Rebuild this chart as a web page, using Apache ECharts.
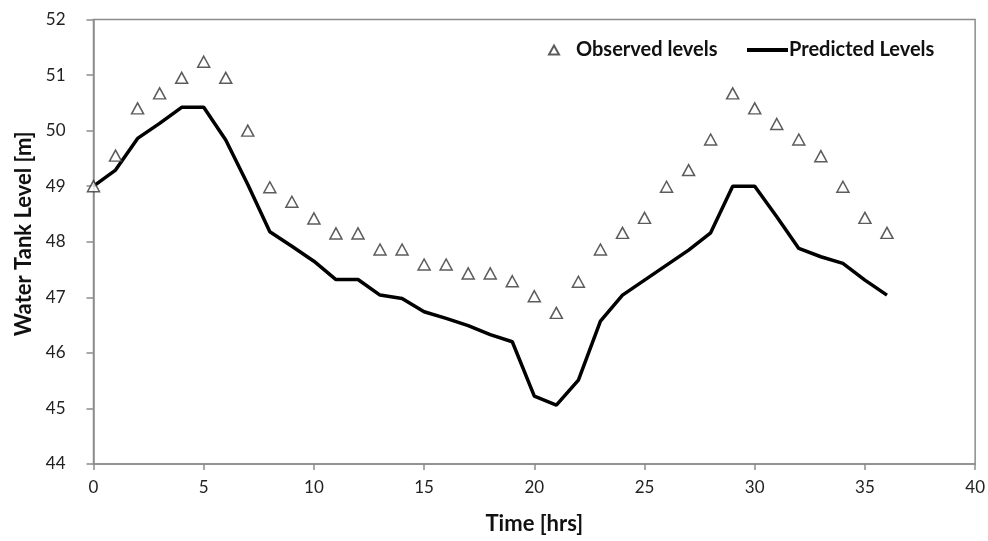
<!DOCTYPE html>
<html>
<head>
<meta charset="utf-8">
<script src="https://cdn.jsdelivr.net/npm/echarts@6/dist/echarts.min.js"></script>
<style>
  html, body { margin: 0; padding: 0; background: #fff; }
  #chart { width: 988px; height: 541px; }
</style>
</head>
<body>
<div id="chart"></div>
<script>
// hours 0..36
const hours = [0, 1, 2, 3, 4, 5, 6, 7, 8, 9, 10, 11, 12, 13, 14, 15, 16, 17, 18,
  19, 20, 21, 22, 23, 24, 25, 26, 27, 28, 29, 30, 31, 32, 33, 34, 35, 36]
// observed levels (triangles)
const observed = [49.0, 49.55, 50.4, 50.67, 50.95, 51.24, 50.95, 50.0, 48.98, 48.72,
  48.42, 48.15, 48.15, 47.86, 47.86, 47.59, 47.59, 47.43, 47.43, 47.29, 47.02, 46.72,
  47.28, 47.86, 48.16, 48.43, 48.99, 49.29, 49.84, 50.67, 50.4, 50.12, 49.84, 49.54,
  48.99, 48.43, 48.16]
// predicted levels (line)
const predicted = [49.0, 49.29, 49.86, 50.13, 50.42, 50.42, 49.83, 49.03, 48.18, 47.92,
  47.65, 47.32, 47.32, 47.04, 46.98, 46.74, 46.62, 46.49, 46.33, 46.2, 45.22, 45.06,
  45.51, 46.57, 47.04, 47.31, 47.58, 47.85, 48.16, 49.0, 49.0, 48.45, 47.88, 47.73,
  47.61, 47.31, 47.04]

const font = 'Lato, "Open Sans", sans-serif'
const chart = echarts.init(document.getElementById('chart'))

const option = {
  backgroundColor: '#fff',
  animation: false,
  textStyle: { fontFamily: font },
  grid: {
    left: 93.5,
    right: 12,
    top: 19.5,
    bottom: 77,
    show: true,
    borderColor: '#8c8c8c',
    borderWidth: 1.5,
    containLabel: false
  },
  legend: [{
    left: 543,
    top: 35,
    data: ['Observed levels'],
    icon: 'triangle',
    itemWidth: 10,
    itemHeight: 9,
    itemGap: 0,
    textStyle: { fontFamily: font, fontSize: 20, fontWeight: 'bold', color: '#111', padding: [0, 0, 0, 12] }
  }, {
    left: 742,
    top: 35,
    data: ['Predicted Levels'],
    icon: 'rect',
    itemWidth: 41,
    itemHeight: 4,
    textStyle: { fontFamily: font, fontSize: 20, fontWeight: 'bold', color: '#111', padding: [0, 0, 0, -4] }
  }],
  xAxis: {
    type: 'value',
    min: 0,
    max: 40,
    interval: 5,
    name: 'Time [hrs]',
    nameLocation: 'middle',
    nameGap: 49,
    nameTextStyle: { fontFamily: font, fontSize: 22, fontWeight: 'bold', color: '#111', verticalAlign: 'top' },
    splitLine: { show: false },
    axisLine: { lineStyle: { color: '#8c8c8c', width: 1.5 } },
    axisTick: { show: true, length: 6, lineStyle: { color: '#8c8c8c', width: 1.5 } },
    axisLabel: { fontFamily: font, fontSize: 17, color: '#222', margin: 15 }
  },
  yAxis: {
    type: 'value',
    min: 44,
    max: 52,
    interval: 1,
    name: 'Water Tank Level [m]',
    nameLocation: 'middle',
    nameGap: 58,
    nameTextStyle: { fontFamily: font, fontSize: 22, fontWeight: 'bold', color: '#111', padding: [0, 0, 0, 16] },
    splitLine: { show: false },
    axisLine: { show: true, lineStyle: { color: '#8c8c8c', width: 1.5 } },
    axisTick: { show: true, length: 7, lineStyle: { color: '#8c8c8c', width: 1.5 } },
    axisLabel: { fontFamily: font, fontSize: 17, color: '#222', margin: 28 }
  },
  series: [{
    name: 'Predicted Levels',
    type: 'line',
    data: hours.map((h, i) => [h, predicted[i]]),
    symbol: 'none',
    lineStyle: { color: '#000', width: 3.5 },
    itemStyle: { color: '#000' },
    z: 2
  }, {
    name: 'Observed levels',
    type: 'scatter',
    data: hours.map((h, i) => [h, observed[i]]),
    symbol: 'triangle',
    symbolSize: [12, 11],
    itemStyle: { color: '#fff', borderColor: '#333', borderWidth: 1.5 },
    z: 3
  }]
}
chart.setOption(option)
</script>
</body>
</html>
